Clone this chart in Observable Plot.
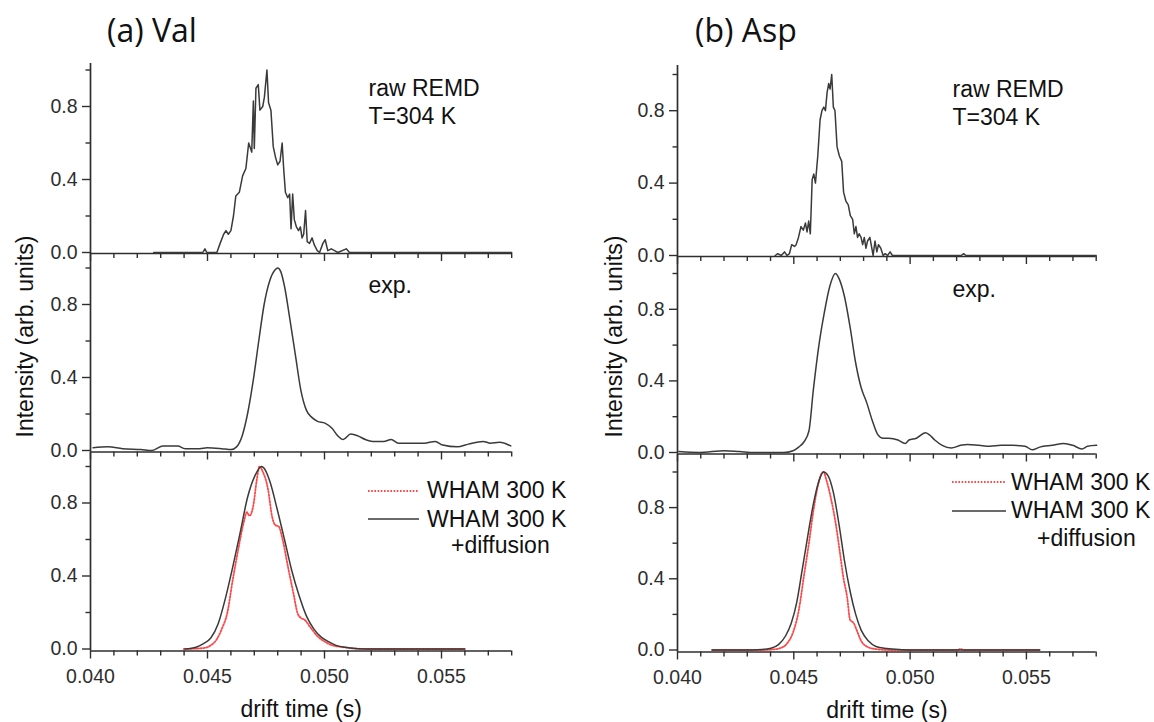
<!DOCTYPE html>
<html>
<head>
<meta charset="utf-8">
<script src="https://cdn.jsdelivr.net/npm/d3@7"></script>
<script src="https://cdn.jsdelivr.net/npm/@observablehq/plot@0.6"></script>
<style>
html, body { margin: 0; padding: 0; background: #fff; }
#fig { position: relative; width: 1154px; height: 722px; overflow: hidden; background: #fff; }
#fig > svg { position: absolute; }
</style>
</head>
<body>
<div id="fig"></div>
<script>
// ---------------- DATA ----------------
const xTickValues = [0.040, 0.045, 0.050, 0.055];
const xTickLabels = ["0.040", "0.045", "0.050", "0.055"];
const xMinorTicks = [0.041, 0.042, 0.043, 0.044, 0.046, 0.047, 0.048, 0.049, 0.051, 0.052, 0.053, 0.054, 0.056, 0.057, 0.058];
const yTickValues = [0, 0.4, 0.8];
const yTickLabels = ["0.0", "0.4", "0.8"];
const yMinorTicks = [0.2, 0.6, 1.0];

const panelTitles = ["(a) Val", "(b) Asp"];
const rawNote = "raw REMD\nT=304 K";
const expNote = "exp.";
const legendNames = ["WHAM 300 K", "WHAM 300 K", "+diffusion"];
const xLabel = "drift time (s)";
const yLabel = "Intensity (arb. units)";

// (a) Val, raw REMD T=304 K  [drift time (s), intensity]
const valRaw = [[0.04270,0],[0.04480,0],[0.04489,0.02],[0.04497,0],[0.04540,0],[0.04554,0.05],[0.04569,0.10],[0.04579,0.12],[0.04589,0.10],[0.04600,0.12],[0.04611,0.20],[0.04621,0.31],[0.04636,0.33],[0.04650,0.42],[0.04664,0.46],[0.04676,0.60],[0.04689,0.55],[0.04696,0.83],[0.04700,0.57],[0.04707,0.90],[0.04717,0.92],[0.04724,0.78],[0.04736,0.80],[0.04743,0.85],[0.04754,1.00],[0.04761,0.82],[0.04771,0.78],[0.04781,0.58],[0.04791,0.52],[0.04800,0.48],[0.04810,0.50],[0.04819,0.60],[0.04826,0.45],[0.04833,0.33],[0.04843,0.30],[0.04851,0.32],[0.04857,0.13],[0.04864,0.32],[0.04871,0.18],[0.04880,0.14],[0.04889,0.12],[0.04897,0.14],[0.04904,0.08],[0.04911,0.10],[0.04919,0.23],[0.04926,0.06],[0.04936,0.05],[0.04947,0.08],[0.04957,0.04],[0.04969,0.01],[0.04979,0],[0.04993,0.05],[0.05003,0.07],[0.05014,0.01],[0.05029,0.02],[0.05043,0.01],[0.05057,0],[0.05093,0.02],[0.05107,0],[0.05800,0]];

// (a) Val, experiment
const valExp = [[0.04011,0.015],[0.04074,0.02],[0.04137,0.01],[0.04215,0.005],[0.04263,0.0],[0.04310,0.025],[0.04373,0.025],[0.04404,0.01],[0.04467,0.01],[0.04498,0.015],[0.04561,0.01],[0.04601,0.005],[0.04624,0.02],[0.04648,0.08],[0.04671,0.20],[0.04695,0.38],[0.04719,0.60],[0.04742,0.80],[0.04766,0.93],[0.04789,0.99],[0.04800,1.00],[0.04813,0.98],[0.04829,0.90],[0.04852,0.72],[0.04876,0.52],[0.04899,0.33],[0.04923,0.22],[0.04947,0.18],[0.04970,0.16],[0.05002,0.15],[0.05033,0.12],[0.05057,0.08],[0.05080,0.06],[0.05112,0.09],[0.05143,0.08],[0.05175,0.06],[0.05206,0.05],[0.05253,0.05],[0.05285,0.06],[0.05316,0.04],[0.05379,0.04],[0.05426,0.04],[0.05473,0.05],[0.05505,0.03],[0.05568,0.02],[0.05615,0.035],[0.05678,0.05],[0.05709,0.04],[0.05748,0.045],[0.05796,0.025]];

// (a) Val, WHAM 300 K (red dotted) and WHAM 300 K + diffusion (black)
const valWham = [[0.04399,0],[0.04483,0.005],[0.04514,0.02],[0.04538,0.05],[0.04561,0.11],[0.04585,0.20],[0.04608,0.38],[0.04632,0.55],[0.04656,0.70],[0.04668,0.75],[0.04679,0.73],[0.04695,0.78],[0.04711,0.93],[0.04722,1.00],[0.04737,0.97],[0.04758,0.88],[0.04777,0.72],[0.04789,0.68],[0.04805,0.67],[0.04821,0.60],[0.04844,0.45],[0.04868,0.30],[0.04884,0.20],[0.04899,0.17],[0.04915,0.16],[0.04939,0.12],[0.04970,0.07],[0.05002,0.04],[0.05033,0.02],[0.05080,0.01],[0.05127,0.003],[0.05190,0],[0.05599,0]];
const valDiff = [[0.04404,0],[0.04451,0.01],[0.04483,0.03],[0.04514,0.06],[0.04546,0.14],[0.04577,0.28],[0.04608,0.45],[0.04640,0.64],[0.04671,0.83],[0.04703,0.95],[0.04731,1.00],[0.04742,0.99],[0.04766,0.92],[0.04797,0.77],[0.04829,0.60],[0.04860,0.43],[0.04892,0.29],[0.04923,0.18],[0.04954,0.11],[0.04986,0.065],[0.05017,0.04],[0.05049,0.02],[0.05096,0.008],[0.05143,0.002],[0.05206,0],[0.05599,0]];

// (b) Asp, raw REMD T=304 K
const aspRaw = [[0.04420,0],[0.04431,0.01],[0.04446,0],[0.04460,0.02],[0.04471,0],[0.04481,0.01],[0.04491,0.06],[0.04503,0.05],[0.04510,0.06],[0.04520,0.10],[0.04531,0.16],[0.04541,0.14],[0.04550,0.18],[0.04557,0.13],[0.04564,0.19],[0.04571,0.12],[0.04579,0.42],[0.04586,0.45],[0.04593,0.40],[0.04603,0.55],[0.04613,0.75],[0.04621,0.80],[0.04629,0.82],[0.04636,0.80],[0.04643,0.90],[0.04650,0.95],[0.04656,0.92],[0.04663,1.00],[0.04670,0.82],[0.04677,0.80],[0.04686,0.60],[0.04696,0.55],[0.04706,0.52],[0.04714,0.35],[0.04724,0.30],[0.04734,0.28],[0.04743,0.22],[0.04753,0.20],[0.04760,0.12],[0.04767,0.16],[0.04774,0.10],[0.04781,0.12],[0.04789,0.10],[0.04796,0.06],[0.04803,0.10],[0.04810,0.04],[0.04817,0.08],[0.04827,0.10],[0.04834,0.05],[0.04841,0.0],[0.04849,0.08],[0.04857,0.02],[0.04864,0.06],[0.04874,0.04],[0.04884,0.0],[0.04893,0.01],[0.04903,0],[0.04914,0.02],[0.04924,0],[0.05220,0],[0.05230,0.01],[0.05240,0],[0.05800,0]];

// (b) Asp, experiment
const aspExp = [[0.04006,0.005],[0.04093,0.0],[0.04204,0.01],[0.04267,0.005],[0.04331,0.0],[0.04457,0.0],[0.04497,0.01],[0.04521,0.03],[0.04544,0.06],[0.04565,0.12],[0.04584,0.35],[0.04608,0.60],[0.04631,0.78],[0.04655,0.93],[0.04679,1.00],[0.04695,0.97],[0.04718,0.87],[0.04742,0.70],[0.04766,0.50],[0.04790,0.36],[0.04813,0.28],[0.04837,0.18],[0.04861,0.10],[0.04884,0.08],[0.04908,0.08],[0.04948,0.07],[0.04979,0.05],[0.04995,0.07],[0.05027,0.08],[0.05066,0.11],[0.05082,0.10],[0.05106,0.07],[0.05138,0.04],[0.05177,0.025],[0.05217,0.04],[0.05248,0.045],[0.05296,0.04],[0.05343,0.035],[0.05391,0.04],[0.05438,0.04],[0.05494,0.035],[0.05525,0.015],[0.05557,0.03],[0.05612,0.04],[0.05660,0.05],[0.05699,0.04],[0.05739,0.02],[0.05763,0.035],[0.05802,0.04]];

// (b) Asp, WHAM 300 K (red dotted) and WHAM 300 K + diffusion (black)
const aspWham = [[0.04149,0],[0.04362,0],[0.04410,0.003],[0.04441,0.01],[0.04473,0.04],[0.04497,0.10],[0.04521,0.22],[0.04544,0.42],[0.04565,0.60],[0.04584,0.78],[0.04603,0.92],[0.04619,0.99],[0.04628,1.00],[0.04639,0.96],[0.04660,0.85],[0.04679,0.72],[0.04698,0.55],[0.04714,0.40],[0.04729,0.30],[0.04742,0.17],[0.04758,0.15],[0.04774,0.10],[0.04790,0.05],[0.04813,0.02],[0.04853,0.005],[0.04916,0],[0.05200,0],[0.05217,0.005],[0.05233,0],[0.05557,0]];
const aspDiff = [[0.04149,0],[0.04283,0],[0.04362,0.003],[0.04402,0.01],[0.04434,0.03],[0.04465,0.08],[0.04489,0.15],[0.04513,0.27],[0.04536,0.45],[0.04560,0.64],[0.04584,0.82],[0.04608,0.95],[0.04628,1.00],[0.04647,0.98],[0.04671,0.88],[0.04695,0.70],[0.04718,0.50],[0.04742,0.33],[0.04766,0.20],[0.04790,0.11],[0.04821,0.05],[0.04853,0.02],[0.04900,0.008],[0.04964,0.002],[0.05027,0],[0.05557,0]];

// ---------------- STYLE / LAYOUT ----------------
const INK = "#2e2e2e";
const LINE = "#3a3a3a";
const RED = "#ff4848";
const DOTS = "1.6,1.6";
const SANS = "'Liberation Sans', Arial, Helvetica, sans-serif";
const TITLE_FONT = "'Open Sans', 'Noto Sans', sans-serif";
const X_DOMAIN = [0.040, 0.058];
const TICK_FS = 19.5, NOTE_FS = 23, LABEL_FS = 23;

const columns = [
  { left: 0, axisL: 90, axisR: 511.2,
    panels: [ {top: 63, zero: 252, bottom: 253, k: 182.5},
              {top: 253, zero: 450, bottom: 451.5, k: 182.5},
              {top: 451.5, zero: 648, bottom: 650, k: 182.5} ],
    series: [ [{d: valRaw, c: LINE}], [{d: valExp, c: LINE, smooth: true}],
              [{d: valWham, c: RED, dash: DOTS, smooth: true}, {d: valDiff, c: LINE, smooth: true}] ],
    note: {x: 368, top: 76, expTop: 276, ylabX: 25},
    title: {x: 107, y: 42},
    legend: {x1: 368, x2: 419, y1: 491, y2: 519, tx: 427, ty1: 498, ty2: 527, dx: 451, dy: 553}
  },
  { left: 577, axisL: 677, axisR: 1095.7,
    panels: [ {top: 65, zero: 255, bottom: 256, k: 181},
              {top: 256, zero: 452, bottom: 453.5, k: 179},
              {top: 453.5, zero: 649, bottom: 651, k: 178} ],
    series: [ [{d: aspRaw, c: LINE}], [{d: aspExp, c: LINE, smooth: true}],
              [{d: aspWham, c: RED, dash: DOTS, smooth: true}, {d: aspDiff, c: LINE, smooth: true}] ],
    note: {x: 952, top: 77, expTop: 280, ylabX: 614},
    title: {x: 695, y: 42},
    legend: {x1: 952, x2: 1006, y1: 482, y2: 511, tx: 1011, ty1: 490, ty2: 518, dx: 1037, dy: 546}
  }
];

const fig = document.getElementById("fig");

function makePanel(col, pi) {
  const p = col.panels[pi];
  const isBottom = pi === 2;
  const mt = 12, mb = isBottom ? 75 : 14;
  const W = 577;
  const H = (p.bottom - p.top) + mt + mb;
  const yDom = [(p.zero - p.bottom) / p.k, (p.zero - p.top) / p.k];
  const marks = [];

  marks.push(Plot.axisY(yTickValues, {
    tickSize: 8, tickPadding: 5, stroke: INK, fill: INK, strokeWidth: 1.4,
    tickFormat: d => yTickLabels[yTickValues.indexOf(d)], label: null, fontSize: TICK_FS
  }));
  marks.push(Plot.axisY(yMinorTicks, {tickSize: 4.5, stroke: INK, strokeWidth: 1.4, fill: "none", label: null}));
  if (isBottom) {
    marks.push(Plot.axisX(xTickValues, {
      tickSize: 8, tickPadding: 10, stroke: INK, fill: INK, strokeWidth: 1.4,
      tickFormat: d => xTickLabels[xTickValues.indexOf(d)], label: null, fontSize: TICK_FS
    }));
  } else {
    marks.push(Plot.axisX(xTickValues, {tickSize: 8, stroke: INK, strokeWidth: 1.4, fill: "none", label: null}));
  }
  marks.push(Plot.axisX(xMinorTicks, {tickSize: 5, stroke: INK, strokeWidth: 1.4, fill: "none", label: null}));
  marks.push(Plot.ruleX([X_DOMAIN[0]], {stroke: INK, strokeWidth: 1.7}));
  marks.push(Plot.ruleY([yDom[0]], {stroke: INK, strokeWidth: 1.7}));

  for (const s of col.series[pi]) {
    marks.push(Plot.line(s.d, {
      x: d => d[0], y: d => d[1], stroke: s.c, strokeWidth: s.dash ? 1.8 : 1.5,
      strokeDasharray: s.dash || null, curve: s.smooth ? "monotone-x" : "linear"
    }));
  }

  if (pi === 0) {
    marks.push(Plot.text([rawNote], {frameAnchor: "top-left", dx: col.note.x - col.axisL, dy: col.note.top - p.top,
      textAnchor: "start", lineAnchor: "top", lineHeight: 1.22, fontSize: NOTE_FS, fill: "#111"}));
  }
  if (pi === 1) {
    marks.push(Plot.text([expNote], {frameAnchor: "top-left", dx: col.note.x - col.axisL, dy: col.note.expTop - p.top,
      textAnchor: "start", lineAnchor: "top", fontSize: NOTE_FS, fill: "#111"}));
    const mid = (p.top + p.bottom) / 2;
    marks.push(Plot.text([yLabel], {frameAnchor: "left", rotate: -90, dx: col.note.ylabX - col.axisL, dy: 336 - mid,
      textAnchor: "middle", lineAnchor: "middle", fontSize: LABEL_FS, fill: "#111"}));
  }
  if (isBottom) {
    marks.push(Plot.text([xLabel], {frameAnchor: "bottom", dy: 50, lineAnchor: "top", fontSize: LABEL_FS, fill: "#111"}));
  }

  const svg = Plot.plot({
    width: W, height: H,
    marginLeft: col.axisL - col.left, marginRight: col.left + W - col.axisR,
    marginTop: mt, marginBottom: mb,
    x: {domain: X_DOMAIN},
    y: {domain: yDom},
    style: {background: "transparent", overflow: "visible", fontFamily: SANS, fontSize: TICK_FS + "px", color: INK},
    marks
  });
  svg.style.left = col.left + "px";
  svg.style.top = (p.top - mt) + "px";
  svg.style.maxWidth = "none";
  fig.appendChild(svg);
}

columns.forEach(col => col.panels.forEach((_, i) => makePanel(col, i)));

// titles and legends (overlay)
const ov = d3.select(fig).append("svg")
  .attr("width", 1154).attr("height", 722)
  .style("left", "0px").style("top", "0px").style("pointer-events", "none");
columns.forEach((col, ci) => {
  ov.append("text").attr("x", col.title.x).attr("y", col.title.y)
    .attr("font-family", TITLE_FONT).attr("font-size", 32).attr("fill", "#111").text(panelTitles[ci]);
  const L = col.legend;
  ov.append("line").attr("x1", L.x1).attr("x2", L.x2).attr("y1", L.y1).attr("y2", L.y1)
    .attr("stroke", RED).attr("stroke-width", 2).attr("stroke-dasharray", DOTS);
  ov.append("line").attr("x1", L.x1).attr("x2", L.x2).attr("y1", L.y2).attr("y2", L.y2)
    .attr("stroke", LINE).attr("stroke-width", 1.7);
  ov.append("text").attr("x", L.tx).attr("y", L.ty1).attr("font-family", SANS).attr("font-size", NOTE_FS).attr("fill", "#111").text(legendNames[0]);
  ov.append("text").attr("x", L.tx).attr("y", L.ty2).attr("font-family", SANS).attr("font-size", NOTE_FS).attr("fill", "#111").text(legendNames[1]);
  ov.append("text").attr("x", L.dx).attr("y", L.dy).attr("font-family", SANS).attr("font-size", NOTE_FS).attr("fill", "#111").text(legendNames[2]);
});
</script>
</body>
</html>
